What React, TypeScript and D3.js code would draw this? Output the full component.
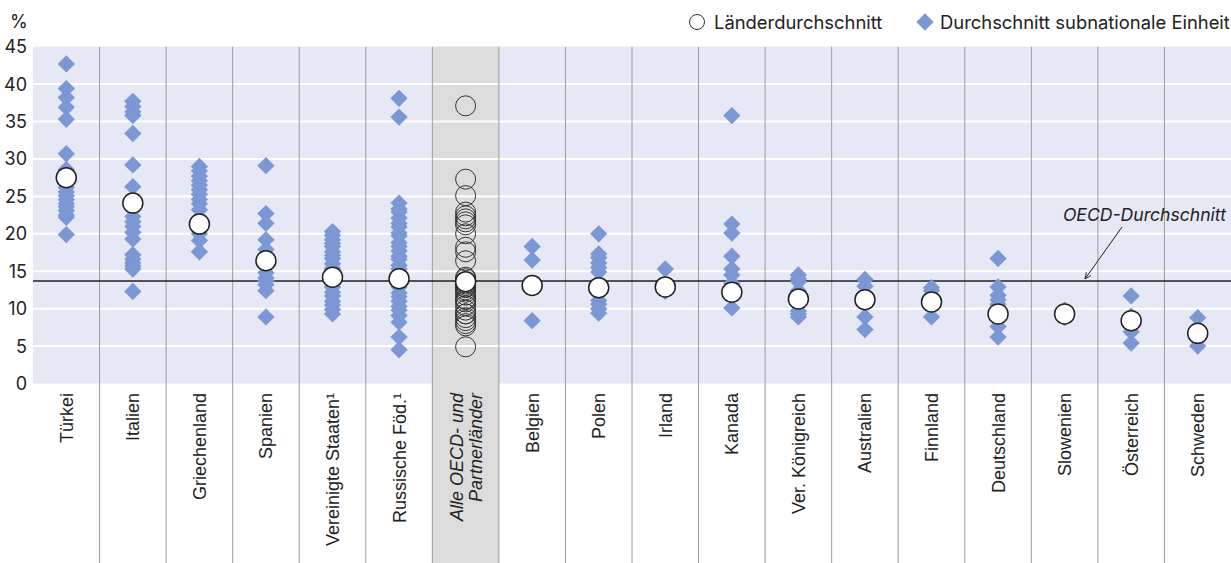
import { useEffect, useRef } from "react"
import * as d3 from "d3"

const countries = [
    "Türkei", "Italien", "Griechenland", "Spanien", "Vereinigte Staaten¹", "Russische Föd.¹",
    "Alle OECD- und Partnerländer", "Belgien", "Polen", "Irland", "Kanada", "Ver. Königreich",
    "Australien", "Finnland", "Deutschland", "Slowenien", "Österreich", "Schweden",
]

// Länderdurchschnitt (one per column)
const countryAvg = [27.5, 24.1, 21.3, 16.4, 14.2, 14.0, 13.6, 13.1, 12.8, 12.9, 12.2, 11.3, 11.2, 10.9, 9.3, 9.3, 8.4, 6.7]

// Durchschnitt subnationale Einheit
const tuerkei = [42.7, 39.4, 38.2, 36.9, 35.3, 30.7, 28.6, 27.1, 26.2, 25.6, 25.1, 24.6, 24.0, 23.6, 23.1, 22.5, 22.2, 19.9]
const italien = [37.7, 37.0, 36.3, 35.8, 33.4, 29.2, 26.3, 22.3, 21.6, 21.0, 20.2, 19.3, 17.2, 16.6, 16.1, 15.7, 15.3, 12.3]
const griechenland = [29.0, 28.4, 27.7, 27.1, 26.5, 25.9, 25.3, 24.6, 24.0, 23.2, 22.1, 20.9, 20.0, 19.1, 17.6]
const spanien = [29.1, 22.7, 21.4, 19.2, 17.9, 15.6, 14.8, 14.1, 13.7, 13.2, 12.4, 8.9]
const usa = [20.3, 19.8, 19.2, 18.7, 18.3, 17.6, 17.1, 16.7, 16.0, 15.4, 15.1, 14.6, 13.9, 13.3, 12.9, 12.2, 11.7, 11.0, 10.5, 9.9, 9.3]
const russland = [38.1, 35.6, 24.1, 23.3, 22.9, 22.1, 21.4, 20.9, 20.1, 19.7, 18.8, 18.3, 17.7, 17.0, 16.6, 15.8, 15.3, 14.7, 14.1, 13.4, 12.9, 12.1, 11.6, 11.0, 10.3, 9.8, 9.1, 8.2, 6.2, 4.5]
const belgien = [18.3, 16.5, 8.4]
const polen = [20.0, 17.3, 16.8, 16.1, 15.5, 14.9, 11.1, 10.6, 10.0, 9.4]
const irland = [15.3, 12.3]
const kanada = [35.8, 21.3, 20.1, 17.0, 15.3, 14.5, 13.4, 10.1]
const verKoenigreich = [14.5, 14.0, 13.6, 12.4, 11.7, 10.8, 9.7, 9.3, 8.9]
const australien = [13.9, 13.0, 11.4, 8.9, 7.2]
const finnland = [12.8, 12.4, 10.2, 8.9]
const deutschland = [16.7, 12.9, 11.8, 11.2, 10.6, 9.6, 8.9, 7.6, 6.2]
const slowenien = [9.8, 8.8]
const oesterreich = [11.7, 9.0, 8.6, 7.9, 6.9, 5.4]
const schweden = [8.8, 7.0, 5.0]

// all country averages, shown as hollow circles in the OECD column
const oecdLaender = [37.1, 27.3, 25.1, 22.9, 22.4, 22.0, 21.6, 21.2, 20.0, 18.2, 17.6, 16.4, 14.2, 14.0, 13.3, 13.1, 12.9, 12.8, 12.5, 12.2, 11.8, 11.3, 11.2, 10.9, 10.4, 9.8, 9.3, 9.3, 8.8, 8.4, 8.0, 7.7, 4.9]

const oecdAverage = 13.7
const yTicks = [0, 5, 10, 15, 20, 25, 30, 35, 40, 45]

const regions: number[][] = [
    tuerkei, italien, griechenland, spanien, usa, russland, [], belgien, polen, irland,
    kanada, verKoenigreich, australien, finnland, deutschland, slowenien, oesterreich, schweden,
]

const OECD_COL = "Alle OECD- und Partnerländer"
const DIAMOND = "#7c98d4"
const TICK_FONT = "Inter, 'DejaVu Sans', sans-serif"
const LABEL_FONT = "'Liberation Sans', Arial, sans-serif"

export default function App() {
    const ref = useRef<SVGSVGElement>(null)
    const width = 1231
    const height = 563

    useEffect(() => {
        const svg = d3.select(ref.current)
        svg.selectAll("*").remove()

        const x = d3.scaleBand().domain(countries).range([33, 1231])
        const y = d3.scaleLinear().domain([0, 45]).range([383.5, 46.7])
        const cx = (c: string) => (x(c) as number) + x.bandwidth() / 2

        // plot background
        svg.append("rect")
            .attr("x", 33).attr("y", y(45))
            .attr("width", 1198).attr("height", y(0) - y(45))
            .attr("fill", "#e6e8f5")

        // grey band for OECD column
        svg.append("rect")
            .attr("x", x(OECD_COL) as number).attr("y", y(45))
            .attr("width", x.bandwidth()).attr("height", height - y(45))
            .attr("fill", "#dcdcdc")

        // gridlines
        svg.append("g").selectAll("line")
            .data(yTicks.filter(d => d > 0 && d < 45))
            .enter().append("line")
            .attr("x1", 33).attr("x2", 1231)
            .attr("y1", d => y(d)).attr("y2", d => y(d))
            .attr("stroke", "#ffffff").attr("stroke-width", 2)

        // column separators
        svg.append("g").selectAll("line")
            .data(countries.slice(1))
            .enter().append("line")
            .attr("x1", d => x(d) as number).attr("x2", d => x(d) as number)
            .attr("y1", y(45)).attr("y2", height)
            .attr("stroke", "#9c9c9c").attr("stroke-width", 1)

        // y tick labels
        svg.append("g").selectAll("text")
            .data(yTicks)
            .enter().append("text")
            .attr("x", 27).attr("y", d => y(d))
            .attr("dy", "0.36em")
            .attr("text-anchor", "end")
            .attr("font-family", TICK_FONT).attr("font-size", 18)
            .attr("fill", "#222")
            .text(d => d)

        svg.append("text")
            .attr("x", 10).attr("y", 28)
            .attr("font-family", TICK_FONT).attr("font-size", 18)
            .attr("fill", "#222")
            .text("%")

        // OECD average line
        svg.append("line")
            .attr("x1", 33).attr("x2", 1231)
            .attr("y1", y(oecdAverage)).attr("y2", y(oecdAverage))
            .attr("stroke", "#222").attr("stroke-width", 1.6)

        // diamonds
        const diamond = d3.symbol().type(d3.symbolSquare).size(150)
        const pts = countries.flatMap((c, i) => regions[i].map(v => ({ c, v })))
        svg.append("g").selectAll("path")
            .data(pts)
            .enter().append("path")
            .attr("d", diamond)
            .attr("transform", d => `translate(${cx(d.c)},${y(d.v)}) rotate(45)`)
            .attr("fill", DIAMOND)

        // hollow circles in OECD column
        svg.append("g").selectAll("circle")
            .data(oecdLaender)
            .enter().append("circle")
            .attr("cx", cx(OECD_COL)).attr("cy", d => y(d))
            .attr("r", 10)
            .attr("fill", "none")
            .attr("stroke", "#333").attr("stroke-width", 1)

        // country averages
        svg.append("g").selectAll("circle")
            .data(countries)
            .enter().append("circle")
            .attr("cx", d => cx(d)).attr("cy", (d, i) => y(countryAvg[i]))
            .attr("r", 10)
            .attr("fill", "#fff")
            .attr("stroke", "#222").attr("stroke-width", 1.5)

        // x labels
        const labels = svg.append("g").selectAll("g")
            .data(countries)
            .enter().append("g")
            .attr("transform", d => `translate(${cx(d)},393) rotate(-90)`)
        labels.filter(d => d !== OECD_COL).append("text")
            .attr("text-anchor", "end")
            .attr("dy", "0.36em")
            .attr("font-family", LABEL_FONT).attr("font-size", 18)
            .attr("fill", "#222")
            .text(d => d)
        const oecdLabel = labels.filter(d => d === OECD_COL)
        oecdLabel.append("text")
            .attr("text-anchor", "end").attr("y", -9).attr("dy", "0.36em")
            .attr("font-family", LABEL_FONT).attr("font-size", 18).attr("font-style", "italic")
            .attr("fill", "#222")
            .text("Alle OECD- und")
        oecdLabel.append("text")
            .attr("text-anchor", "end").attr("y", 10).attr("dy", "0.36em")
            .attr("font-family", LABEL_FONT).attr("font-size", 18).attr("font-style", "italic")
            .attr("fill", "#222")
            .text("Partnerländer")

        // OECD annotation
        svg.append("text")
            .attr("x", 1226).attr("y", 221)
            .attr("text-anchor", "end")
            .attr("font-family", TICK_FONT).attr("font-size", 17.6).attr("font-style", "italic")
            .attr("fill", "#222")
            .text("OECD-Durchschnitt")

        svg.append("defs").append("marker")
            .attr("id", "arrow")
            .attr("viewBox", "0 0 10 10")
            .attr("refX", 9).attr("refY", 5)
            .attr("markerWidth", 7).attr("markerHeight", 7)
            .attr("orient", "auto")
            .append("path")
            .attr("d", "M0,1 L9,5 L0,9")
            .attr("fill", "none").attr("stroke", "#222").attr("stroke-width", 1.2)

        svg.append("line")
            .attr("x1", 1122).attr("y1", 227)
            .attr("x2", 1085).attr("y2", y(oecdAverage) - 2)
            .attr("stroke", "#222").attr("stroke-width", 1)
            .attr("marker-end", "url(#arrow)")

        // legend
        const legend = svg.append("g")
        legend.append("circle")
            .attr("cx", 697).attr("cy", 22).attr("r", 7.5)
            .attr("fill", "#fff").attr("stroke", "#333").attr("stroke-width", 1)
        legend.append("text")
            .attr("x", 714).attr("y", 22).attr("dy", "0.36em")
            .attr("font-family", TICK_FONT).attr("font-size", 18.4)
            .attr("fill", "#222")
            .text("Länderdurchschnitt")
        legend.append("path")
            .attr("d", d3.symbol().type(d3.symbolSquare).size(150))
            .attr("transform", "translate(925,22) rotate(45)")
            .attr("fill", DIAMOND)
        legend.append("text")
            .attr("x", 940).attr("y", 22).attr("dy", "0.36em")
            .attr("font-family", TICK_FONT).attr("font-size", 18.4)
            .attr("fill", "#222")
            .text("Durchschnitt subnationale Einheit")
    }, [])

    return (
        <div style={{ position: "absolute", left: 0, top: 0 }}>
            <svg ref={ref} width={width} height={height} style={{ display: "block" }}></svg>
        </div>
    )
}
